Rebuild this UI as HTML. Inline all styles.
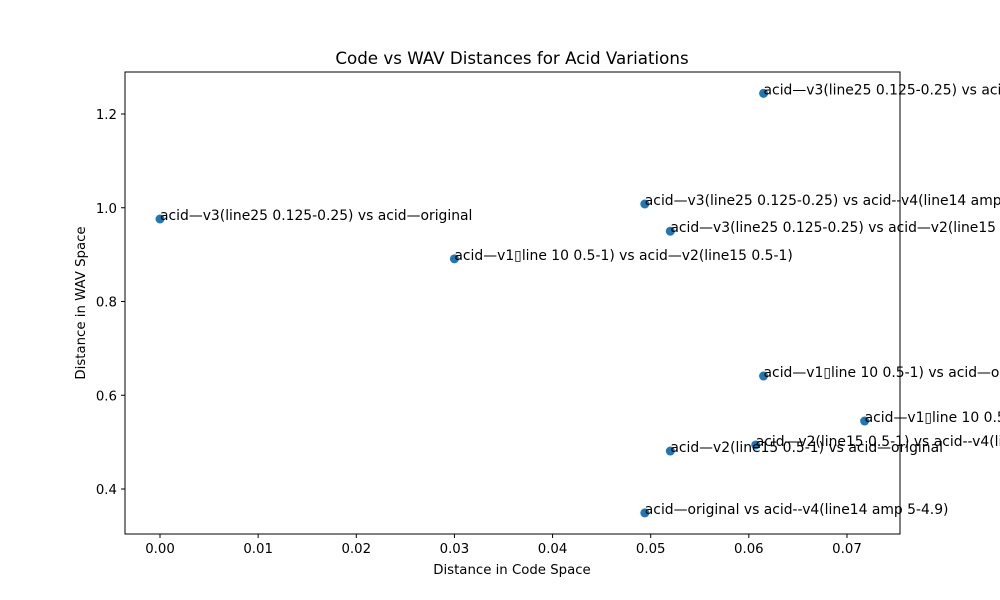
<!DOCTYPE html>
<html><head><meta charset="utf-8"><style>body{margin:0;background:#fff}svg{display:block;font-family:"DejaVu Sans","Liberation Sans",sans-serif}</style></head>
<body>
<svg id="chart" width="1000" height="600" viewBox="0 0 1000 600">
<rect width="1000" height="600" fill="#fff"/>
<text x="512" y="64" font-size="16.7" text-anchor="middle">Code vs WAV Distances for Acid Variations</text>
<g id="axes"></g>
<g id="points"></g>
<text x="512" y="574" font-size="13.3" text-anchor="middle">Distance in Code Space</text>
<text transform="translate(85,303) rotate(-90)" font-size="13.3" text-anchor="middle">Distance in WAV Space</text>
</svg>
<script>
const labels=["acid—v3(line25 0.125-0.25) vs acid—v1\u25AFline 10 0.5-1)","acid—v3(line25 0.125-0.25) vs acid--v4(line14 amp 5-4.9)","acid—v3(line25 0.125-0.25) vs acid—original","acid—v3(line25 0.125-0.25) vs acid—v2(line15 0.5-1)","acid—v1\u25AFline 10 0.5-1) vs acid—v2(line15 0.5-1)","acid—v1\u25AFline 10 0.5-1) vs acid—original","acid—v1\u25AFline 10 0.5-1) vs acid--v4(line14 amp 5-4.9)","acid—v2(line15 0.5-1) vs acid--v4(line14 amp 5-4.9)","acid—v2(line15 0.5-1) vs acid—original","acid—original vs acid--v4(line14 amp 5-4.9)"];
const codeDist=[0.0615,0.0494,0.0,0.0520,0.0300,0.0615,0.0718,0.0607,0.0520,0.0494];
const wavDist=[1.244,1.008,0.976,0.950,0.891,0.641,0.545,0.494,0.481,0.349];
const xTicks=[0,0.01,0.02,0.03,0.04,0.05,0.06,0.07];
const yTicks=[0.4,0.6,0.8,1.0,1.2];
const L=125,R=900,T=72,B=534;
const xs=v=>160+v*9814;
const ys=v=>489-(v-0.4)*468.75;
const NS="http://www.w3.org/2000/svg";
function mk(t,a,p){const e=document.createElementNS(NS,t);for(const k in a)e.setAttribute(k,a[k]);p.appendChild(e);return e;}
const ax=document.getElementById('axes'),pts=document.getElementById('points');
const frame=mk('rect',{x:L,y:T,width:R-L,height:B-T,fill:'none',stroke:'#000','stroke-width':1},ax);


xTicks.forEach(v=>{const x=xs(v);
const t=mk('line',{x1:x,x2:x,y1:B,y2:B+4,stroke:'#000'},ax);


const l=mk('text',{x:x,y:B+19,'font-size':13.3,'text-anchor':'middle'},ax);l.textContent=v.toFixed(2);

});
yTicks.forEach(v=>{const y=ys(v);
const t=mk('line',{x1:L-4,x2:L,y1:y,y2:y,stroke:'#000'},ax);


const l=mk('text',{x:L-8,y:y+5,'font-size':13.3,'text-anchor':'end'},ax);l.textContent=v.toFixed(1);

});
codeDist.forEach((c,i)=>{const x=xs(c),y=ys(wavDist[i]);
const p=mk('circle',{cx:x,cy:y,r:4.5,fill:'#1f77b4'},pts);


const l=mk('text',{x:x,y:y+1,'font-size':13.9},pts);l.textContent=labels[i];

});
</script>
</body></html>
